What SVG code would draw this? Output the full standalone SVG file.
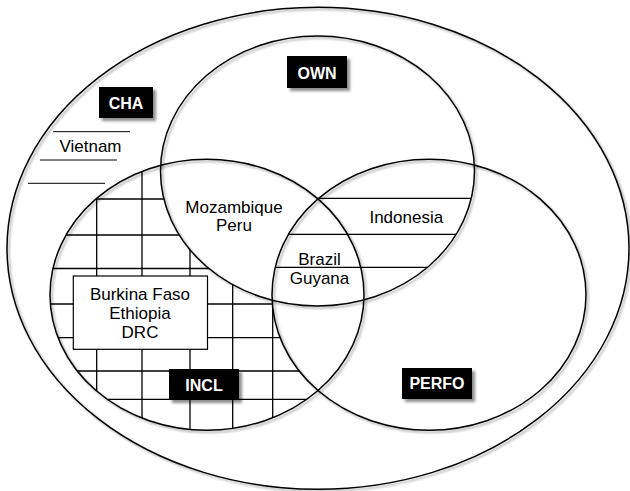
<svg xmlns="http://www.w3.org/2000/svg" width="630" height="491" viewBox="0 0 630 491">
  <style>
    .ring { fill: none; stroke: #000; stroke-width: 1.5; filter: url(#ringShadow); }
    .grid line, .hatch line { stroke: #000; stroke-width: 1.3; }
    .rule { stroke: #000; stroke-width: 1; }
    .txt { font-family: "Liberation Sans", Arial, sans-serif; font-size: 17px; fill: #000; text-anchor: middle; }
    .lbl { font-family: "Liberation Sans", Arial, sans-serif; font-size: 16px; font-weight: bold; fill: #fff; text-anchor: middle; }
    .tag { fill: #000; filter: url(#boxShadow); }
    .box { fill: #fff; stroke: #000; stroke-width: 1.2; }
  </style>
  <defs>
    <filter id="ringShadow" x="-5%" y="-5%" width="110%" height="110%">
      <feDropShadow dx="2" dy="2" stdDeviation="1.2" flood-color="#000" flood-opacity="0.35"/>
    </filter>
    <filter id="boxShadow" x="-20%" y="-20%" width="150%" height="150%">
      <feDropShadow dx="3" dy="3" stdDeviation="1.8" flood-color="#000" flood-opacity="0.45"/>
    </filter>
    <mask id="inclOnly" maskUnits="userSpaceOnUse" x="0" y="0" width="630" height="491">
      <ellipse cx="207" cy="294.7" rx="157" ry="135.5" fill="#fff"/>
      <ellipse cx="317.5" cy="171" rx="157" ry="135" fill="#000"/>
      <ellipse cx="429" cy="294.7" rx="157" ry="135.5" fill="#000"/>
    </mask>
    <clipPath id="clipOwn"><ellipse cx="317.5" cy="171" rx="157" ry="135"/></clipPath>
    <clipPath id="clipPerfo"><ellipse cx="429" cy="294.7" rx="157" ry="135.5"/></clipPath>
  </defs>

  <rect width="630" height="491" fill="#fff"/>

  <!-- patterns -->
  <g id="incl-grid" class="grid" mask="url(#inclOnly)">
    <line x1="96.7" y1="150" x2="96.7" y2="440"/>
    <line x1="142" y1="150" x2="142" y2="440"/>
    <line x1="190" y1="150" x2="190" y2="440"/>
    <line x1="232.7" y1="150" x2="232.7" y2="440"/>
    <line x1="272.7" y1="150" x2="272.7" y2="440"/>
    <line x1="40" y1="199" x2="370" y2="199"/>
    <line x1="40" y1="235" x2="370" y2="235"/>
    <line x1="40" y1="268.5" x2="370" y2="268.5"/>
    <line x1="40" y1="304" x2="370" y2="304"/>
    <line x1="40" y1="337.7" x2="370" y2="337.7"/>
    <line x1="40" y1="371" x2="370" y2="371"/>
    <line x1="40" y1="399.3" x2="370" y2="399.3"/>
  </g>
  <g id="own-perfo-hatch" class="hatch" clip-path="url(#clipOwn)">
    <g clip-path="url(#clipPerfo)">
      <line x1="260" y1="198.3" x2="480" y2="198.3"/>
      <line x1="260" y1="234.3" x2="480" y2="234.3"/>
      <line x1="260" y1="267.3" x2="480" y2="267.3"/>
    </g>
  </g>

  <g id="connectors"/>

  <g id="cha">
    <ellipse class="ring" cx="318" cy="248.3" rx="311" ry="241"/>
    <rect class="tag" x="99" y="87" width="54" height="31"/>
    <text class="lbl" x="126" y="109">CHA</text>
    <line class="rule" x1="53" y1="131.7" x2="130" y2="131.7"/>
    <line class="rule" x1="40" y1="160" x2="117" y2="160"/>
    <line class="rule" x1="28" y1="183.3" x2="105" y2="183.3"/>
    <text class="txt" x="90.5" y="151.7">Vietnam</text>
  </g>

  <g id="own">
    <ellipse class="ring" cx="317.5" cy="171" rx="157" ry="135"/>
    <rect class="tag" x="287" y="56" width="60" height="32"/>
    <text class="lbl" x="317" y="78.5">OWN</text>
  </g>

  <g id="incl">
    <ellipse class="ring" cx="207" cy="294.7" rx="157" ry="135.5"/>
    <rect class="tag" x="169" y="369" width="70" height="31"/>
    <text class="lbl" x="204" y="390.5">INCL</text>
  </g>

  <g id="perfo">
    <ellipse class="ring" cx="429" cy="294.7" rx="157" ry="135.5"/>
    <rect class="tag" x="402" y="368" width="70" height="31"/>
    <text class="lbl" x="437" y="389">PERFO</text>
  </g>

  <g id="incl-only-box">
    <rect class="box" x="73.3" y="276" width="134.2" height="73.3"/>
    <text class="txt" x="140" y="300">Burkina Faso</text>
    <text class="txt" x="140" y="318.5">Ethiopia</text>
    <text class="txt" x="140" y="337.5">DRC</text>
  </g>

  <g id="own-incl">
    <text class="txt" x="234" y="213">Mozambique</text>
    <text class="txt" x="234" y="231.3">Peru</text>
  </g>

  <g id="own-perfo">
    <text class="txt" x="406.3" y="222.7">Indonesia</text>
  </g>

  <g id="all-three">
    <text class="txt" x="319.5" y="265">Brazil</text>
    <text class="txt" x="319.5" y="284">Guyana</text>
  </g>
</svg>
